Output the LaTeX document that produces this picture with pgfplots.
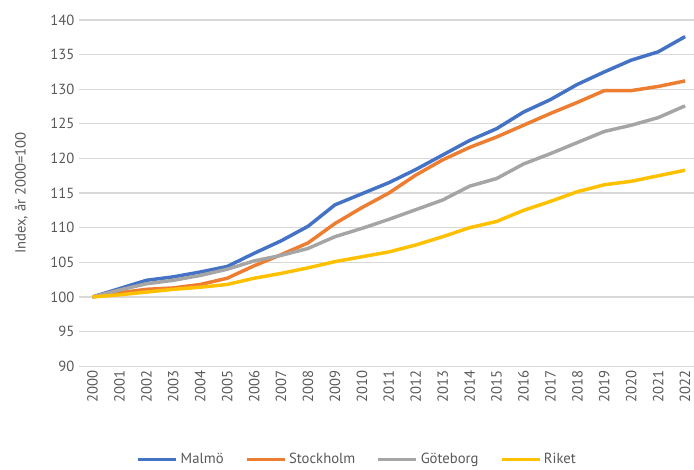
\documentclass[border=0pt]{standalone}
\usepackage{pgfplots}
\pgfplotsset{compat=1.18}
\usepackage{pgfplotstable}
\usepackage{fontspec}
\setmainfont{PT Sans}
\definecolor{cblue}{HTML}{4472C4}
\definecolor{corange}{HTML}{ED7D31}
\definecolor{cgray}{HTML}{A5A5A5}
\definecolor{cyellow}{HTML}{FFC000}
\definecolor{ctext}{HTML}{595959}
\pgfplotstableread{
x malmo stockholm goteborg riket
0 100.0 100.0 100.0 100.0
1 101.2 100.6 101.0 100.3
2 102.4 101.1 101.9 100.7
3 102.9 101.3 102.4 101.1
4 103.6 101.8 103.1 101.4
5 104.4 102.7 104.0 101.8
6 106.3 104.5 105.2 102.7
7 108.1 106.1 106.0 103.4
8 110.2 107.8 107.0 104.2
9 113.3 110.6 108.7 105.1
10 114.9 112.9 109.9 105.8
11 116.5 115.0 111.2 106.5
12 118.4 117.6 112.6 107.5
13 120.5 119.8 114.0 108.7
14 122.6 121.6 116.0 110.0
15 124.3 123.1 117.1 110.9
16 126.7 124.8 119.2 112.5
17 128.5 126.5 120.7 113.8
18 130.7 128.1 122.3 115.2
19 132.5 129.8 123.9 116.2
20 134.2 129.8 124.8 116.7
21 135.4 130.4 125.9 117.5
22 137.6 131.2 127.6 118.3
}\datatable
\begin{document}
\begin{tikzpicture}
\begin{axis}[
  scale only axis, width=461pt, height=259.5pt,
  xmin=-0.5, xmax=22.33, ymin=90, ymax=140,
  ytick={90,95,...,140},
  xtick={0,...,22},
  xticklabels={2000,2001,2002,2003,2004,2005,2006,2007,2008,2009,2010,2011,2012,2013,2014,2015,2016,2017,2018,2019,2020,2021,2022},
  x tick label style={rotate=90, anchor=east, font=\fontsize{11}{13}\selectfont, text=ctext},
  y tick label style={font=\fontsize{11}{13}\selectfont, text=ctext},
  /pgf/number format/assume math mode=true,
  ymajorgrids, grid style={draw=black!15, line width=0.9pt},
  axis line style={draw=none}, major tick length=0pt,
  ylabel={Index, år 2000=100},
  ylabel shift=10pt,
  ylabel style={font=\fontsize{11}{13}\selectfont, text=ctext},
  legend style={at={(0.453,-0.243)}, anchor=north, legend columns=4, draw=none,
    font=\fontsize{11}{13}\selectfont, text=ctext, inner sep=0pt,
    /tikz/every even column/.append style={column sep=14pt}},
  legend image code/.code={\draw[#1, line width=2.6pt] (0,0) -- (1cm,0);},
  every axis plot/.append style={line width=2.6pt, line join=round},
]
\addplot[cblue, no marks] table[x=x, y=malmo] {\datatable};
\addlegendentry{Malmö}
\addplot[corange, no marks] table[x=x, y=stockholm] {\datatable};
\addlegendentry{Stockholm}
\addplot[cgray, no marks] table[x=x, y=goteborg] {\datatable};
\addlegendentry{Göteborg}
\addplot[cyellow, no marks] table[x=x, y=riket] {\datatable};
\addlegendentry{Riket}
\end{axis}
\pgfresetboundingbox
\path (current axis.south west) ++(-59.25pt,-77.25pt) coordinate (bbsw);
\path (current axis.north east) ++(0pt,15pt) coordinate (bbne);
\useasboundingbox (bbsw) rectangle (bbne);
\end{tikzpicture}
\end{document}
